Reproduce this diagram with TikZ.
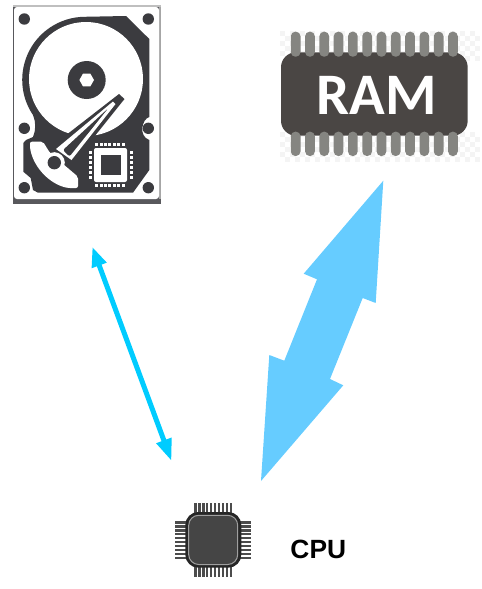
\documentclass[tikz,border=0pt]{standalone}
\usepackage{fontspec}
\setmainfont{Liberation Sans}
\newfontfamily\ramfont{Carlito}
\usetikzlibrary{arrows.meta}
\definecolor{hddgray}{HTML}{3B3B3F}
\definecolor{ramgray}{HTML}{4A4644}
\definecolor{pingray}{HTML}{858581}
\definecolor{busthin}{HTML}{00CCFF}
\definecolor{busthick}{HTML}{66CCFF}
\begin{document}
\begin{tikzpicture}[x=0.02cm,y=-0.02cm]
        \useasboundingbox (0,0) rectangle (482,589);
        % Hard disk frame
        \fill[hddgray!85] (13,5) rectangle (161,204);
        \fill[gray!50] (13,5) rectangle (161,7);
        \fill[gray!70] (159,7) rectangle (161,199);
        \fill[white, rounded corners=0.06cm] (14,7) rectangle (159,199);
        % Hard disk body
        \fill[hddgray] (33,115) arc[start angle=146, end angle=270, radius=63]
            -- (126,16) -- (149.3,39) -- (149.3,117)
            .. controls (142,119) and (138,136) .. (149.3,140)
            -- (149.3,170) -- (133,192.7) -- (38,192.7) -- (33,190) -- (30.7,178)
            -- (23.3,171.7) -- (23.3,143) -- (26,140) -- (33,137)
            .. controls (36,130) and (36,122) .. (33,115);
        % Screw holes
        \foreach \hx in {24.3,148.3}
            \foreach \hy in {19,128.3,187.7}
                \fill[hddgray] (\hx,\hy) circle (5.7);
        % Platter and spindle
        \fill[white] (86,79) circle (57);
        \fill[hddgray] (86.7,80) circle (19);
        \fill[white] (94,80) -- (90.3,86.4) -- (83,86.4) -- (79.4,80) -- (83,73.6) -- (90.3,73.6) -- cycle;
        % White sector under the arm
        \fill[white, rounded corners=0.04cm] (30,141.7) -- (43,141.7) -- (50,153) -- (78,176.7)
            -- (78,188) -- (68,188) .. controls (50,184) and (34,168) .. (30,148) -- cycle;
        % Actuator arm
        \fill[hddgray] (119,94) -- (124.5,99) -- (74,162) -- (52,146) -- cycle;
        \fill[white] (56,149) -- (113,101.5) -- (115.5,104) -- (71.5,160) -- cycle;
        \fill[hddgray, rounded corners=0.04cm] (63,150) -- (108,108.5) -- (69.5,156.5) -- cycle;
        \fill[white] (54.3,162.7) circle (10.5);
        \fill[hddgray] (54.3,162.7) circle (6.7);
        % Controller chip on the disk
        \fill[white, rounded corners=0.04cm] (94,148) rectangle (127,182);
        \fill[hddgray] (101,155) rectangle (120.7,175);
        \foreach \i in {0,...,6} {
            \fill[white] (95.2+4.4*\i,142.8) rectangle ++(3,3);
            \fill[white] (95.2+4.4*\i,183.5) rectangle ++(3,3);
        }
        \foreach \i in {0,...,5} {
            \fill[white] (89.2,151.2+5*\i) rectangle ++(3,3);
            \fill[white] (129.5,151.2+5*\i) rectangle ++(3,3);
        }
        % RAM: faint squares behind the pins
        \foreach \tx in {280,290,...,470}
            \foreach \ty in {31,41,51,132,142,152} {
                \fill[gray!9] (\tx,\ty) rectangle ++(5,5);
                \fill[gray!9] (\tx+5,\ty+5) rectangle ++(5,5);
            }
        % RAM body and pins
        \fill[ramgray, rounded corners=0.3cm] (281,52.3) rectangle (467.7,135.7);
        \foreach \i in {0,...,11} {
            \fill[pingray, rounded corners=0.09cm] (290.8+14.3*\i,31.7) rectangle ++(9.7,25);
            \fill[pingray, rounded corners=0.09cm] (290.8+14.3*\i,131.7) rectangle ++(9.7,24.3);
        }
        \node[text=white, font=\ramfont\bfseries\fontsize{33.5}{36}\selectfont] (ramlabel) at (376.7,95) {RAM};
        % CPU pins
        \foreach \i in {0,...,9} {
            \fill[gray!60!black] (194+3.95*\i,502.7) rectangle ++(2.6,11);
            \fill[gray!60!black] (194+3.95*\i,566) rectangle ++(2.6,11);
            \fill[gray!60!black] (175.3,521+3.95*\i) rectangle ++(11,2.6);
            \fill[gray!60!black] (240,521+3.95*\i) rectangle ++(11,2.6);
        }
        % CPU package
        \fill[black!85, rounded corners=0.26cm] (185.3,512) rectangle (241.3,567.7);
        \filldraw[fill=black!73, draw=gray!75, line width=0.02cm, rounded corners=0.2cm] (188.7,515.3) rectangle (237.7,564.5);
        \node[font=\bfseries\fontsize{15}{17}\selectfont] (cpulabel) at (318.3,549.5) {CPU};
        % Thin link between disk and CPU
        \coordinate (hddend) at (92.3,246.7);
        \coordinate (cpuleft) at (171.5,461);
        \draw[busthin, line width=0.1cm, {Triangle[length=0.4cm,width=0.29cm]}-{Triangle[length=0.44cm,width=0.3cm]}] (hddend) -- (cpuleft);
        % Thick link between RAM and CPU
        \coordinate (ramend) at (383.3,180.7);
        \coordinate (cpuright) at (261,481);
        \fill[busthick] (ramend) -- (375.7,303) -- (362.7,298) -- (330,379) -- (343.3,385.3)
            -- (cpuright) -- (269.3,355) -- (284.3,360.7) -- (317,279.3) -- (303.7,273.7) -- cycle;
    \end{tikzpicture}
\end{document}
